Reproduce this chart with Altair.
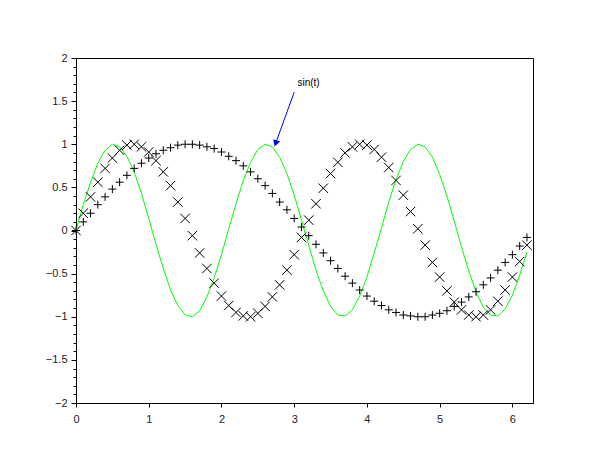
import altair as alt
import pandas as pd

t = [round(0.1 * i, 1) for i in range(63)]

sin_t = [0, 0.10, 0.20, 0.30, 0.39, 0.48, 0.56, 0.64, 0.72, 0.78,
         0.84, 0.89, 0.93, 0.96, 0.99, 1.00, 1.00, 0.99, 0.97, 0.95,
         0.91, 0.86, 0.81, 0.75, 0.68, 0.60, 0.52, 0.43, 0.33, 0.24,
         0.14, 0.04, -0.06, -0.16, -0.26, -0.35, -0.44, -0.53, -0.61, -0.69,
         -0.76, -0.82, -0.87, -0.92, -0.95, -0.98, -0.99, -1.00, -1.00, -0.98,
         -0.96, -0.93, -0.88, -0.83, -0.77, -0.71, -0.63, -0.55, -0.46, -0.37,
         -0.28, -0.18, -0.08]

sin_2t = [0, 0.20, 0.39, 0.56, 0.72, 0.84, 0.93, 0.99, 1.00, 0.97,
          0.91, 0.81, 0.68, 0.52, 0.33, 0.14, -0.06, -0.26, -0.44, -0.61,
          -0.76, -0.87, -0.95, -0.99, -1.00, -0.96, -0.88, -0.77, -0.63, -0.46,
          -0.28, -0.08, 0.12, 0.31, 0.49, 0.66, 0.79, 0.90, 0.97, 1.00,
          0.99, 0.94, 0.85, 0.73, 0.58, 0.41, 0.22, 0.02, -0.17, -0.37,
          -0.54, -0.70, -0.83, -0.92, -0.98, -1.00, -0.98, -0.92, -0.82, -0.69,
          -0.54, -0.36, -0.17]

sin_3t = [0, 0.30, 0.56, 0.78, 0.93, 1.00, 0.97, 0.86, 0.68, 0.43,
          0.14, -0.16, -0.44, -0.69, -0.87, -0.98, -1.00, -0.93, -0.77, -0.55,
          -0.28, 0.02, 0.31, 0.58, 0.79, 0.94, 1.00, 0.97, 0.85, 0.66,
          0.41, 0.12, -0.17, -0.46, -0.70, -0.88, -0.98, -0.99, -0.92, -0.76,
          -0.54, -0.26, 0.03, 0.33, 0.59, 0.80, 0.94, 1.00, 0.97, 0.85,
          0.65, 0.40, 0.11, -0.19, -0.47, -0.71, -0.89, -0.98, -0.99, -0.91,
          -0.75, -0.52, -0.25]

x_ticks = [0, 0.5, 1, 1.5, 2, 2.5, 3, 3.5, 4, 4.5, 5, 5.5, 6]
y_ticks = [-2, -1.5, -1, -0.5, 0, 0.5, 1, 1.5, 2]
y_minor = [round(-2 + 0.1 * i, 1) for i in range(41)]

label_text = ["sin(t)"]
label_x = [3.045]
label_y = [1.705]
arrow_tail_x = [3.0]
arrow_tail_y = [1.604]
arrow_head_x = [2.745]
arrow_head_y = [1.01]

df = pd.DataFrame({"t": t, "s1": sin_t, "s2": sin_2t, "s3": sin_3t})
ann = pd.DataFrame({"x": label_x, "y": label_y, "text": label_text})
arr = pd.DataFrame({"x": arrow_tail_x, "y": arrow_tail_y,
                    "x2": arrow_head_x, "y2": arrow_head_y})

FONT = "Liberation Sans"
xscale = alt.Scale(domain=[0, 6.2832], nice=False, zero=False)
yscale = alt.Scale(domain=[-2, 2], nice=False)

x_axis = alt.Axis(values=x_ticks, title=None, grid=False, tickSize=4,
                  format="~g",
                  labelFont=FONT, labelFontSize=11, labelColor="#222",
                  domainColor="black", tickColor="black", labelPadding=6,
                  labelFlush=False)
y_axis = alt.Axis(values=y_ticks, title=None, grid=False, tickSize=5,
                  format="~g",
                  labelFont=FONT, labelFontSize=11, labelColor="#222",
                  domainColor="black", tickColor="black", labelPadding=4,
                  orient="left")
y_axis_minor = alt.Axis(values=y_minor, title=None, grid=False, tickSize=3,
                        labels=False, domain=False, tickColor="black",
                        orient="left")

base = alt.Chart(df)

green = base.mark_line(color="#00ff00", strokeWidth=1).encode(
    x=alt.X("t:Q", scale=xscale, axis=x_axis),
    y=alt.Y("s3:Q", scale=yscale, axis=y_axis),
)

plus = base.mark_point(shape="M-1,0L1,0M0,-1L0,1", size=64, filled=False,
                       stroke="black", strokeWidth=1, opacity=1).encode(
    x=alt.X("t:Q", scale=xscale),
    y=alt.Y("s1:Q", scale=yscale, axis=None),
)

cross = base.mark_point(shape="M-1,-1L1,1M-1,1L1,-1", size=90, filled=False,
                        stroke="black", strokeWidth=1, opacity=1).encode(
    x=alt.X("t:Q", scale=xscale),
    y=alt.Y("s2:Q", scale=yscale, axis=None),
)

minor = base.mark_point(opacity=0, size=0).encode(
    x=alt.X("t:Q", scale=xscale),
    y=alt.Y("s1:Q", scale=yscale, axis=y_axis_minor),
)

shaft = alt.Chart(arr).mark_rule(color="blue", strokeWidth=1).encode(
    x=alt.X("x:Q", scale=xscale),
    y=alt.Y("y:Q", scale=yscale, axis=None),
    x2="x2:Q", y2="y2:Q",
)

head = alt.Chart(arr).mark_point(shape="triangle-up", filled=True, color="blue",
                                 size=55, angle=199, opacity=1).encode(
    x=alt.X("x2:Q", scale=xscale),
    y=alt.Y("y2:Q", scale=yscale, axis=None),
)

text = alt.Chart(ann).mark_text(font=FONT, fontSize=10, color="black",
                                align="left", baseline="middle").encode(
    x=alt.X("x:Q", scale=xscale),
    y=alt.Y("y:Q", scale=yscale, axis=None),
    text="text:N",
)

chart = alt.layer(green, minor, plus, cross, shaft, head, text).resolve_axis(
    y="independent"
).properties(
    width=457, height=345,
    autosize=alt.AutoSizeParams(type="none"),
    padding={"left": 68, "top": 50, "right": 60, "bottom": 40},
).configure(background="white").configure_view(stroke="black", strokeWidth=1)

chart.save("out.html", embed_options={"renderer": "svg", "actions": False})
